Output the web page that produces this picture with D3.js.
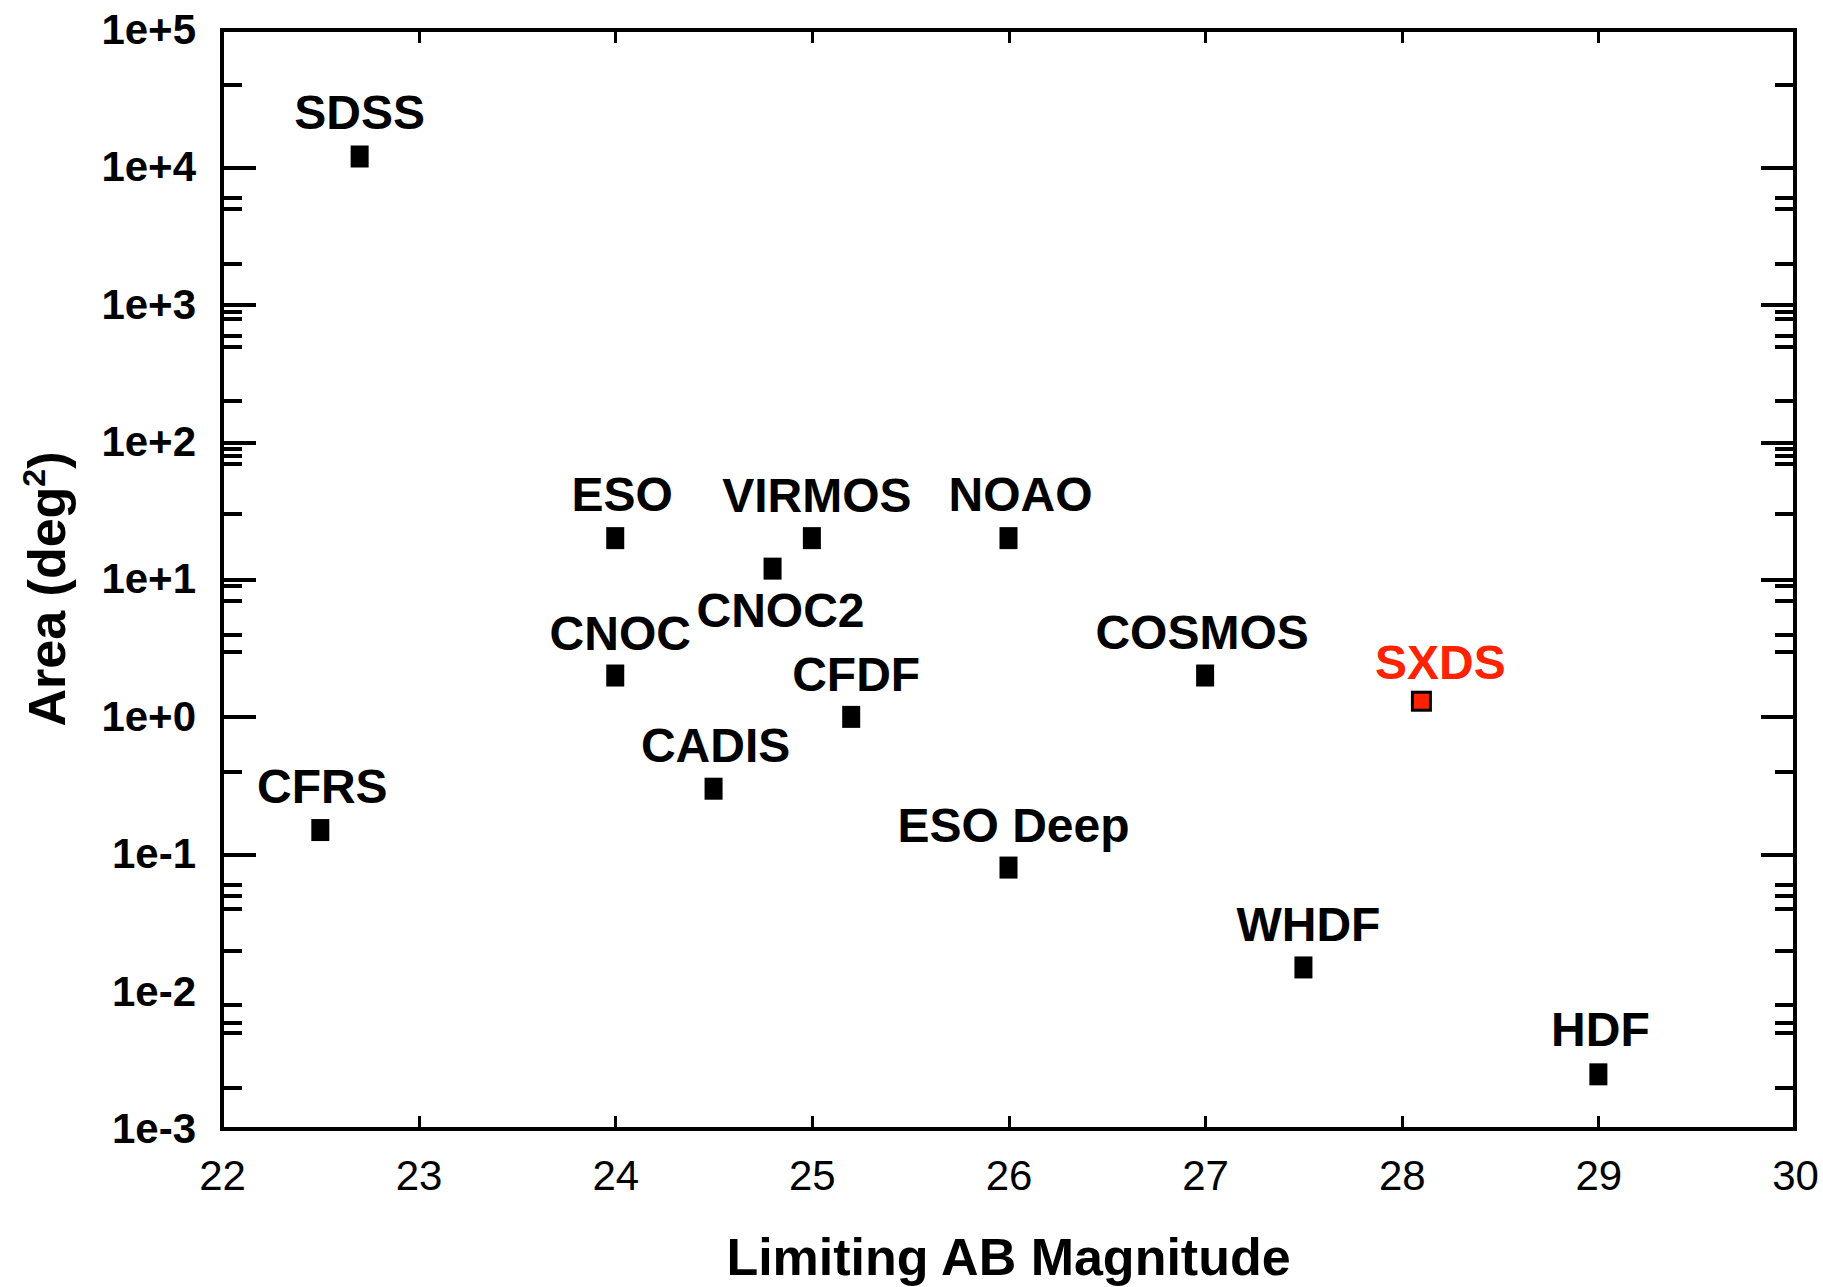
<!DOCTYPE html>
<html>
<head>
<meta charset="utf-8">
<script src="https://cdn.jsdelivr.net/npm/d3@7"></script>
<style>
  html, body { margin: 0; padding: 0; background: #fff; }
  svg { display: block; font-family: "Liberation Sans", Arial, sans-serif; }
  .tick line { shape-rendering: crispEdges; }
</style>
</head>
<body>
<svg width="1823" height="1287"></svg>
<script>
// survey data
const surveys      = ["SDSS", "CFRS", "ESO", "VIRMOS", "NOAO", "CNOC2", "CNOC", "CFDF", "CADIS", "COSMOS", "SXDS", "ESO Deep", "WHDF", "HDF"];
const limitingMag  = [22.7, 22.5, 24.0, 25.0, 26.0, 24.8, 24.0, 25.2, 24.5, 27.0, 28.1, 26.0, 27.5, 29.0];
const areaDeg2     = [12000, 0.15, 20, 20, 20, 12, 2, 1, 0.3, 2, 1.3, 0.08, 0.015, 0.0025];

// axis ticks
const xTickValues  = [22, 23, 24, 25, 26, 27, 28, 29, 30];
const yTickValues  = [1e5, 1e4, 1e3, 1e2, 1e1, 1e0, 1e-1, 1e-2, 1e-3];
const yTickLabels  = ["1e+5", "1e+4", "1e+3", "1e+2", "1e+1", "1e+0", "1e-1", "1e-2", "1e-3"];
const yMajorTicks  = [1e4, 1e3, 1e2, 1e1, 1e0, 1e-1];
const yMinorTicks  = [40000, 6000, 5000, 2000, 900, 800, 600, 500, 200, 90, 80, 70, 30,
                      9, 7, 4, 3, 0.4, 0.06, 0.05, 0.04, 0.02, 0.008, 0.006, 0.005, 0.002];

const highlight = "SXDS";
const red = "#ff2200";

const svg = d3.select("svg"),
    width = +svg.attr("width"),
    height = +svg.attr("height");

const margin = {top: 30, right: 28, bottom: 158, left: 222};
const w = width - margin.left - margin.right,
    h = height - margin.top - margin.bottom;

const x = d3.scaleLinear().domain([22, 30]).range([0, w]);
const y = d3.scaleLog().domain([1e-3, 1e5]).range([h, 0]);

const g = svg.append("g").attr("transform", "translate(" + margin.left + "," + margin.top + ")");

// tick marks (all pointing inward)
function ticks(axis, tr) {
    const a = g.append("g").attr("transform", tr).call(axis);
    a.select(".domain").remove();
    a.selectAll("line").attr("stroke", "#000");
    return a;
}
ticks(d3.axisLeft(y).tickValues(yMajorTicks).tickSize(-34).tickFormat(""), null)
    .selectAll("line").attr("stroke-width", 4);
ticks(d3.axisLeft(y).tickValues(yMinorTicks).tickSize(-20).tickFormat(""), null)
    .selectAll("line").attr("stroke-width", 4);
ticks(d3.axisRight(y).tickValues(yMajorTicks).tickSize(-34).tickFormat(""), "translate(" + w + ",0)")
    .selectAll("line").attr("stroke-width", 4);
ticks(d3.axisRight(y).tickValues(yMinorTicks).tickSize(-20).tickFormat(""), "translate(" + w + ",0)")
    .selectAll("line").attr("stroke-width", 4);
ticks(d3.axisBottom(x).tickValues(xTickValues.slice(1, -1)).tickSize(-13).tickFormat(""), "translate(0," + h + ")")
    .selectAll("line").attr("stroke-width", 3);
ticks(d3.axisTop(x).tickValues(xTickValues.slice(1, -1)).tickSize(-13).tickFormat(""), null)
    .selectAll("line").attr("stroke-width", 3);

// frame
g.append("rect")
    .attr("width", w).attr("height", h)
    .attr("fill", "none").attr("stroke", "#000").attr("stroke-width", 4);

// tick labels
const yl = g.append("g")
    .call(d3.axisLeft(y).tickValues(yTickValues).tickFormat(function(d, i) { return yTickLabels[i]; })
        .tickSize(0).tickPadding(26));
yl.select(".domain").remove();
yl.selectAll("text")
    .attr("font-size", 42).attr("font-weight", "bold").attr("fill", "#000")
    .attr("font-family", "Liberation Sans, Arial, sans-serif");

const xl = g.append("g").attr("transform", "translate(0," + h + ")")
    .call(d3.axisBottom(x).tickValues(xTickValues).tickFormat(d3.format("d")).tickSize(0).tickPadding(31));
xl.select(".domain").remove();
xl.selectAll("text")
    .attr("font-size", 42).attr("fill", "#000")
    .attr("font-family", "Liberation Sans, Arial, sans-serif");

// axis titles
svg.append("text")
    .attr("x", margin.left + w / 2).attr("y", 1275)
    .attr("text-anchor", "middle")
    .attr("font-size", 52).attr("font-weight", "bold")
    .text("Limiting AB Magnitude");

const yt = svg.append("text")
    .attr("transform", "translate(65," + 589 + ") rotate(-90)")
    .attr("text-anchor", "middle")
    .attr("font-size", 52).attr("font-weight", "bold");
yt.append("tspan").text("Area (deg");
yt.append("tspan").attr("font-size", 32).attr("dy", -20).text("2");
yt.append("tspan").attr("dy", 20).text(")");

// points
const points = surveys.map(function(d, i) {
    return {name: d, mag: limitingMag[i], area: areaDeg2[i]};
});

g.append("g").selectAll("rect")
    .data(points)
    .enter().append("rect")
    .attr("x", function(d) { return x(d.mag) - 9; })
    .attr("y", function(d) { return y(d.area) - (d.name === highlight ? 9 : 11); })
    .attr("width", 18)
    .attr("height", function(d) { return d.name === highlight ? 18 : 22; })
    .attr("fill", function(d) { return d.name === highlight ? red : "#000"; })
    .attr("stroke", function(d) { return d.name === highlight ? "#000" : "none"; })
    .attr("stroke-width", 3);

// label placement (pixel nudges, default is centered above)
const labelShift = {
    "SDSS": [0, -27], "CFRS": [2, -27], "ESO": [7, -27], "NOAO": [12, -27],
    "CNOC2": [8, 58], "COSMOS": [-3, -27], "SXDS": [19, -22], "CADIS": [2, -27], "HDF": [2, -28]
};

g.append("g").selectAll("text")
    .data(points)
    .enter().append("text")
    .attr("x", function(d) { return x(d.mag) + (labelShift[d.name] ? labelShift[d.name][0] : 5); })
    .attr("y", function(d) { return y(d.area) + (labelShift[d.name] ? labelShift[d.name][1] : -26); })
    .attr("text-anchor", "middle")
    .attr("font-size", 48).attr("font-weight", "bold")
    .attr("fill", function(d) { return d.name === highlight ? red : "#000"; })
    .text(function(d) { return d.name; });
</script>
</body>
</html>
